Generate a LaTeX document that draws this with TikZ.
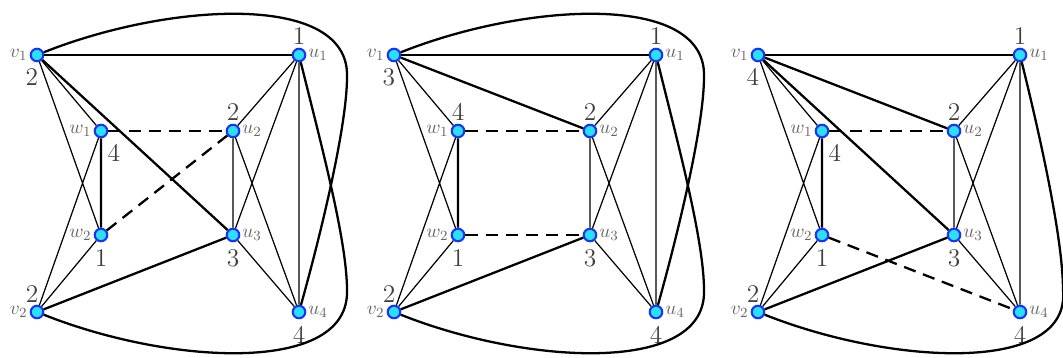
\documentclass[tikz,border=0pt]{standalone}
\usepackage{amsmath}
\usepackage{tikz}

\definecolor{vfill}{RGB}{40,225,245}
\definecolor{vline}{RGB}{30,50,245}

\begin{document}
\begin{tikzpicture}[x=0.02cm, y=-0.02cm,
  vtx/.style={circle, draw=vline, fill=vfill, line width=1.2pt,
    inner sep=0pt, minimum size=0.25cm},
  nm/.style={text=black!60, inner sep=1pt, font=\fontsize{11}{13}\selectfont},
  num/.style={text=black!75, anchor=center, inner sep=0pt,
    font=\fontsize{14.5}{16}\selectfont},
  up/.style={num, label distance=0.23cm},
  dn/.style={num, label distance=0.31cm},
  wd/.style={num, label distance=0.37cm},
  ln/.style={line width=0.7pt},
  hv/.style={line width=1.3pt},
  dsh/.style={line width=1.3pt, dash pattern=on 7pt off 4.5pt}]
\useasboundingbox (0,0) rectangle (1063,358);

% the three colourings share the same drawing
\foreach \p/\x/\c/\s/\a/\r in {a/37/2/wd/-60/310, b/394/3/up/90/310, c/758/4/wd/-60/305} {
\begin{scope}[shift={(\x,0)}, name prefix=\p-]
  \node[vtx, label={[nm]left:$v_1$}, label={[dn]-103:\c}] (v1) at (0,55) {};
  \node[vtx, label={[nm]right:$u_1$}, label={[up]90:1}] (u1) at (262,55) {};
  \node[vtx, label={[nm]left:$w_1$}, label={[\s]\a:4}] (w1) at (64,131) {};
  \node[vtx, label={[nm]right:$u_2$}, label={[up]90:2}] (u2) at (196,131) {};
  \node[vtx, label={[nm]left:$w_2$}, label={[dn]-90:1}] (w2) at (64,235) {};
  \node[vtx, label={[nm]right:$u_3$}, label={[dn]-90:3}] (u3) at (196,235) {};
  \node[vtx, label={[nm]left:$v_2$}, label={[up]105:2}] (v2) at (0,312) {};
  \node[vtx, label={[nm]right:$u_4$}, label={[dn]-90:4}] (u4) at (262,312) {};

  \draw[hv] (v1) -- (u1);
  \draw[ln] (v1) -- (w1) (v1) -- (w2) (w1) -- (v2) (w2) -- (v2);
  \draw[hv] (w1) -- (w2) (v2) -- (u3);
  \draw[ln] (u1) -- (u2) (u1) -- (u3) (u1) -- (u4)
            (u2) -- (u3) (u2) -- (u4) (u3) -- (u4);
  \draw[dsh] (w1) -- (u2);
  \draw[hv] (v2) .. controls (133,365) and (313,375) .. (\r,290)
                 .. controls (\r,240) and (283,140) .. (u1);
\end{scope}
}

% what differs between them
\draw[hv] (a-v1) -- (a-u3);
\draw[dsh] (a-w2) -- (a-u2);
\draw[hv] (b-v1) -- (b-u2);
\draw[dsh] (b-w2) -- (b-u3);
\draw[hv] (c-v1) -- (c-u2) (c-v1) -- (c-u3);
\draw[dsh] (c-w2) -- (c-u4);
\foreach \p/\x in {a/37, b/394}
  \draw[hv, shift={(\x,0)}] (\p-v1) .. controls (133,2) and (313,-8) .. (310,77)
                 .. controls (310,127) and (283,237) .. (\p-u4);
\end{tikzpicture}
\end{document}
